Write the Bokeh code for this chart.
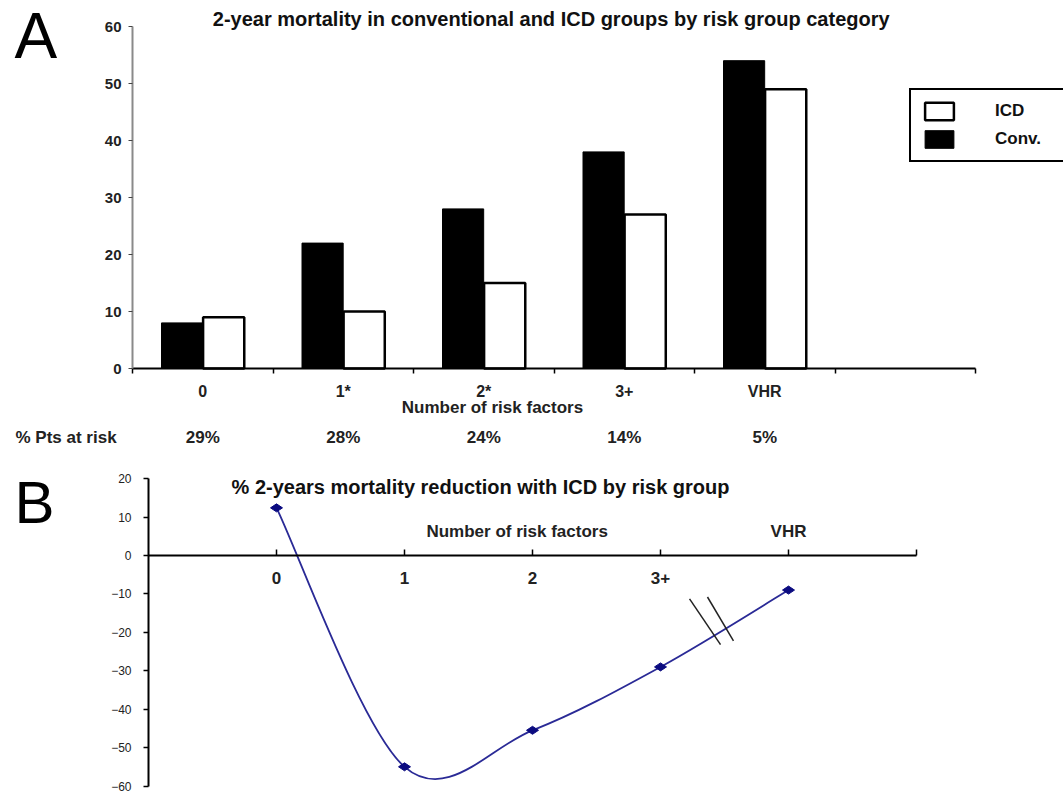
import math
from bokeh.plotting import figure
from bokeh.layouts import column
from bokeh.models import (Range1d, LinearAxis, FixedTicker, SingleIntervalTicker, Label,
                          LabelSet, Legend, LegendItem, ColumnDataSource)
from bokeh.core.properties import value
from bokeh.transform import dodge
from bokeh.embed import file_html
from bokeh.resources import INLINE

# ---------------- data ----------------
categories = ["0", "1*", "2*", "3+", "VHR"]
conv_mortality = [8, 22, 28, 38, 54]
icd_mortality = [9, 10, 15, 27, 49]
pts_at_risk = ["29%", "28%", "24%", "14%", "5%"]

b_labels = ["0", "1", "2", "3+", "VHR"]
reduction = [12.4, -55, -45.5, -29, -9]

FONT = "Liberation Sans"
W = 1063
HA = 470
HB = 793 - HA

# ---------------- panel A ----------------
# frame covers the whole figure; axes are placed with fixed_location
AX_PX = 140.5   # px per category slot
AY_PX = 5.7     # px per % unit
ax_left = -0.5 - 132 / AX_PX
ax_right = -0.5 + (W - 132) / AX_PX
ay_top = 368 / AY_PX
ay_bottom = -(HA - 368) / AY_PX

xpos = list(range(len(categories)))
srcA = ColumnDataSource(dict(x=xpos, cat=categories, conv=conv_mortality,
                             icd=icd_mortality, pct=pts_at_risk))

pA = figure(width=W, height=HA, x_range=Range1d(ax_left, ax_right),
            y_range=Range1d(ay_bottom, ay_top), output_backend="svg",
            toolbar_location=None, x_axis_type=None, y_axis_type=None,
            min_border=0, min_border_left=0, min_border_right=0,
            min_border_top=0, min_border_bottom=0)
pA.outline_line_color = None
pA.background_fill_color = "white"
pA.border_fill_color = "white"

r_conv = pA.vbar(x=dodge("x", -0.147, range=pA.x_range), top="conv", width=0.293,
                 source=srcA, fill_color="black", line_color="black", line_width=1)
r_icd = pA.vbar(x=dodge("x", 0.149, range=pA.x_range), top="icd", width=0.293,
                source=srcA, fill_color="white", line_color="black", line_width=2.5)

yA = LinearAxis(fixed_location=-0.5, bounds=(0, 60),
                ticker=SingleIntervalTicker(interval=10),
                axis_line_color="#8a8a8a", axis_line_width=2,
                major_tick_out=4, major_tick_in=0, major_tick_line_color="#444444",
                minor_tick_line_color=None,
                major_label_text_font=FONT, major_label_text_font_style="bold",
                major_label_text_font_size="15px", major_label_text_color="#222222",
                major_label_standoff=7)
pA.add_layout(yA, "left")

n_slots = len(categories) + 1
xA = LinearAxis(fixed_location=0,
                ticker=FixedTicker(ticks=xpos, minor_ticks=[i - 0.5 for i in range(n_slots + 1)]),
                bounds=(-0.5, n_slots - 0.5),
                axis_line_color="black", axis_line_width=2,
                major_tick_line_color=None, major_tick_out=0, major_tick_in=0,
                minor_tick_line_color="black", minor_tick_line_width=1.5,
                minor_tick_out=5, minor_tick_in=0,
                major_label_overrides={i: c for i, c in zip(xpos, categories)},
                major_label_text_font=FONT, major_label_text_font_style="bold",
                major_label_text_font_size="16px", major_label_text_color="#222222",
                major_label_standoff=9)
pA.add_layout(xA, "below")

legend = Legend(items=[LegendItem(label="ICD", renderers=[r_icd]),
                       LegendItem(label="Conv.", renderers=[r_conv])],
                location=(909, HA - 162), orientation="vertical",
                border_line_color="black", border_line_width=2, border_line_alpha=1.0,
                padding=10, spacing=6, glyph_width=36, glyph_height=22,
                label_height=22, label_width=120, label_standoff=38,
                label_text_font=FONT, label_text_font_style="bold",
                label_text_font_size="17px", label_text_color="#111111", margin=0,
                background_fill_color="white", background_fill_alpha=1.0)
pA.add_layout(legend)

pA.add_layout(LabelSet(x="x", y=-12.1, text="pct", source=srcA, text_align="center",
                       text_baseline="middle", text_font=value(FONT),
                       text_font_style="bold", text_font_size="17px",
                       text_color="#222222"))

pA.add_layout(Label(x=2.062, y=-6.84, text="Number of risk factors", text_align="center",
                    text_baseline="middle", text_font=FONT, text_font_style="bold",
                    text_font_size="17px", text_color="#222222"))
pA.add_layout(Label(x=ax_left + 15 / AX_PX, y=-12.1, text="% Pts at risk", text_align="left",
                    text_baseline="middle", text_font=FONT, text_font_style="bold",
                    text_font_size="17px", text_color="#222222"))
pA.add_layout(Label(x=ax_left + 14 / AX_PX, y=58.4, text="A", text_align="left",
                    text_baseline="middle", text_font=FONT,
                    text_font_size="64px", text_color="black"))
pA.add_layout(Label(x=2.48, y=61.4,
                    text="2-year mortality in conventional and ICD groups by risk group category",
                    text_align="center", text_baseline="middle", text_font=FONT,
                    text_font_style="bold", text_font_size="20px", text_color="#111111"))

# ---------------- panel B ----------------
BX_PX = 128.0
BY_PX = 3.842
B_ZERO = 555.0
bx_left = -276 / BX_PX
bx_right = (W - 276) / BX_PX
by_top = (B_ZERO - 470) / BY_PX
by_bottom = -(793 - B_ZERO) / BY_PX

xb = list(range(len(b_labels)))
pB = figure(width=W, height=HB, x_range=Range1d(bx_left, bx_right),
            y_range=Range1d(by_bottom, by_top), output_backend="svg",
            toolbar_location=None, x_axis_type=None, y_axis_type=None,
            min_border=0, min_border_left=0, min_border_right=0,
            min_border_top=0, min_border_bottom=0)
pB.outline_line_color = None

yB = LinearAxis(fixed_location=-1, bounds=(-60, 20),
                ticker=SingleIntervalTicker(interval=10),
                axis_line_color="black", axis_line_width=2,
                major_tick_out=5, major_tick_in=0, major_tick_line_width=1.5,
                minor_tick_line_color=None,
                major_label_text_font=FONT, major_label_text_font_size="12px",
                major_label_text_color="#222222", major_label_standoff=12)
pB.add_layout(yB, "left")

overrides_b = {i: (lab if i < len(b_labels) - 1 else "") for i, lab in enumerate(b_labels)}
overrides_b[len(b_labels)] = ""
xB = LinearAxis(fixed_location=0, ticker=FixedTicker(ticks=list(range(len(b_labels) + 1))),
                bounds=(-1, len(b_labels)),
                axis_line_color="black", axis_line_width=2,
                major_tick_in=6, major_tick_out=0, major_tick_line_width=1.5,
                minor_tick_line_color=None,
                major_label_overrides=overrides_b,
                major_label_text_font=FONT, major_label_text_font_style="bold",
                major_label_text_font_size="17px", major_label_text_color="#222222",
                major_label_standoff=16)
pB.add_layout(xB, "below")

last = len(b_labels) - 1
xB_top = LinearAxis(fixed_location=0, ticker=FixedTicker(ticks=[last]),
                    axis_line_color=None, major_tick_line_color=None,
                    minor_tick_line_color=None,
                    major_label_overrides={last: b_labels[last]},
                    major_label_text_font=FONT, major_label_text_font_style="bold",
                    major_label_text_font_size="17px", major_label_text_color="#222222",
                    major_label_standoff=9)
pB.add_layout(xB_top, "above")

# smooth curve (cubic Bezier through the data points, Catmull-Rom style)
n = len(xb)
x0s, y0s, x1s, y1s, cx0s, cy0s, cx1s, cy1s = [], [], [], [], [], [], [], []
for i in range(n - 1):
    a = max(i - 1, 0)
    d = min(i + 2, n - 1)
    x0s.append(xb[i]); y0s.append(reduction[i])
    x1s.append(xb[i + 1]); y1s.append(reduction[i + 1])
    cx0s.append(xb[i] + (xb[i + 1] - xb[a]) / 6)
    cy0s.append(reduction[i] + (reduction[i + 1] - reduction[a]) / 6)
    cx1s.append(xb[i + 1] - (xb[d] - xb[i]) / 6)
    cy1s.append(reduction[i + 1] - (reduction[d] - reduction[i]) / 6)
pB.bezier(x0=x0s, y0=y0s, x1=x1s, y1=y1s, cx0=cx0s, cy0=cy0s, cx1=cx1s, cy1=cy1s,
          line_color="#2a2a96", line_width=1.8)
pB.scatter(xb, reduction, marker="diamond", size=12, angle=math.pi / 2,
           fill_color="#0b0b80", line_color="#0b0b80")

# axis break marks
pB.segment(x0=[3.227, 3.367], y0=[-11.3, -10.8], x1=[3.469, 3.57], y1=[-23.2, -22.2],
           line_color="#222222", line_width=1.5)

pB.add_layout(Label(x=bx_left + 14 / BX_PX, y=13.7, text="B", text_align="left",
                    text_baseline="middle", text_font=FONT, text_font_size="60px",
                    text_color="black"))
pB.add_layout(Label(x=1.594, y=17.8,
                    text="% 2-years mortality reduction with ICD by risk group",
                    text_align="center", text_baseline="middle", text_font=FONT,
                    text_font_style="bold", text_font_size="20px", text_color="#111111"))
pB.add_layout(Label(x=1.88, y=6.2, text="Number of risk factors", text_align="center",
                    text_baseline="middle", text_font=FONT, text_font_style="bold",
                    text_font_size="17px", text_color="#222222"))

layout = column(pA, pB, spacing=0)
open("out.html", "w").write(file_html(layout, INLINE))
